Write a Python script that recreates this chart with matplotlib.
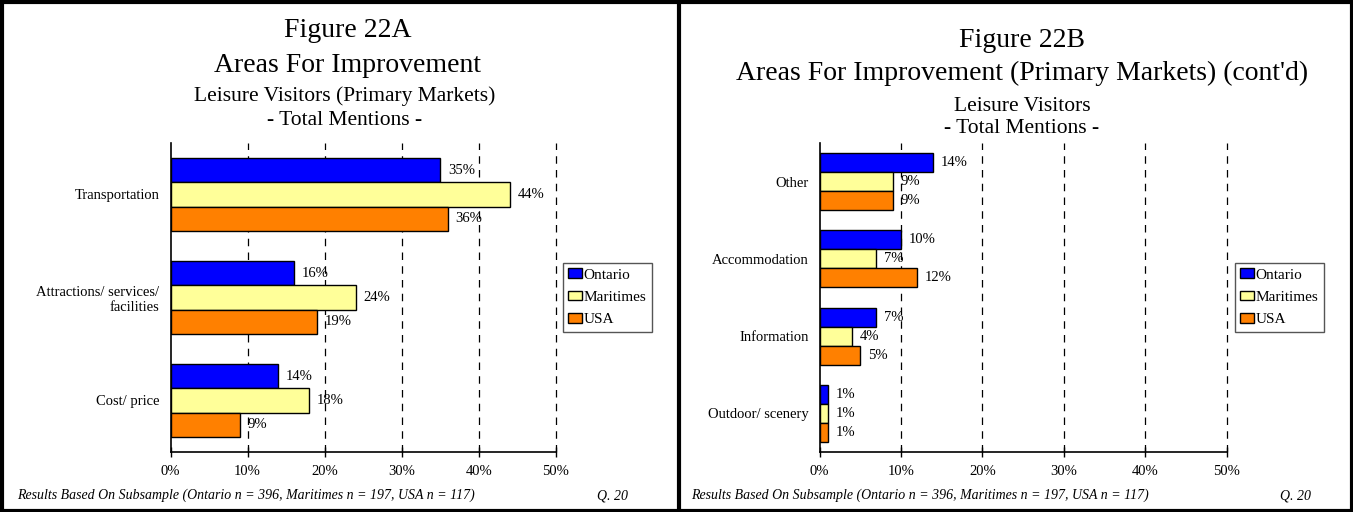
import matplotlib.pyplot as plt
from matplotlib.lines import Line2D
import numpy as np

plt.rcParams['font.family'] = ['Liberation Serif', 'DejaVu Serif']

series = ['Ontario', 'Maritimes', 'USA']
colors = ['#0000FF', '#FFFF99', '#FF8000']

cats_a = ['Transportation', 'Attractions/ services/\nfacilities', 'Cost/ price']
ontario_a = [35, 16, 14]
maritimes_a = [44, 24, 18]
usa_a = [36, 19, 9]

cats_b = ['Other', 'Accommodation', 'Information', 'Outdoor/ scenery']
ontario_b = [14, 10, 7, 1]
maritimes_b = [9, 7, 4, 1]
usa_b = [9, 12, 5, 1]

xticks = [0, 10, 20, 30, 40, 50]

W, H = 1353, 512
fig = plt.figure(figsize=(W / 100, H / 100), dpi=100)


def px(x0, y0, x1, y1):
    return [x0 / W, 1 - y1 / H, (x1 - x0) / W, (y1 - y0) / H]


def panel(rect, cats, vals, bh, legend_xy):
    ax = fig.add_axes(rect)
    n = len(cats)
    y = np.arange(n)
    for i, (v, c, name) in enumerate(zip(vals, colors, series)):
        pos = y + (i - 1) * bh
        bars = ax.barh(pos, v, height=bh, color=c, edgecolor='black', linewidth=1.0, label=name)
        for b, val in zip(bars, v):
            ax.annotate(f'{val}%', (val, b.get_y() + bh / 2), xytext=(5.5, 0),
                        textcoords='offset points', va='center', ha='left', fontsize=10.5)
    ax.set_ylim(n - 0.5, -0.5)
    ax.set_xlim(0, 50)
    ax.set_yticks(y)
    ax.set_yticklabels(cats, fontsize=10.5, ha='right', multialignment='right')
    ax.tick_params(axis='y', length=0, pad=8)
    ax.set_xticks(xticks)
    ax.set_xticklabels([f'{t}%' for t in xticks], fontsize=10.5)
    ax.tick_params(axis='x', direction='inout', length=7, width=1, pad=6)
    for t in xticks[1:]:
        ax.axvline(t, color='black', lw=0.9, ls=(0, (6, 5)), zorder=0, clip_on=False)
    for s in ['top', 'right']:
        ax.spines[s].set_visible(False)
    ax.spines['left'].set_linewidth(1.2)
    ax.spines['bottom'].set_linewidth(1.2)
    ax.set_axisbelow(True)
    leg = ax.legend(loc='upper left', bbox_to_anchor=(legend_xy[0] / W, 1 - legend_xy[1] / H),
                    bbox_transform=fig.transFigure, fontsize=11, frameon=True, fancybox=False,
                    edgecolor='#555555', framealpha=1, borderpad=0.35, borderaxespad=0,
                    handlelength=0.9, handleheight=0.6, handletextpad=0.1, labelspacing=0.6)
    leg.get_frame().set_linewidth(1.0)
    return ax


panel(px(170.5, 143, 556, 452), cats_a, [ontario_a, maritimes_a, usa_a], 0.236, (563, 263))
panel(px(819.5, 143, 1226.5, 452), cats_b, [ontario_b, maritimes_b, usa_b], 0.246, (1235, 263))

# titles
def ftext(x, y, s, **kw):
    fig.text(x / W, 1 - y / H, s, ha='center', va='baseline', **kw)

ftext(348, 37, 'Figure 22A', fontsize=20)
ftext(348, 72, 'Areas For Improvement', fontsize=20)
ftext(345, 101, 'Leisure Visitors (Primary Markets)', fontsize=15.5)
ftext(345, 125, '- Total Mentions -', fontsize=15.5)

ftext(1022, 47, 'Figure 22B', fontsize=20)
ftext(1022, 80, "Areas For Improvement (Primary Markets) (cont'd)", fontsize=20)
ftext(1022, 111, 'Leisure Visitors', fontsize=15.5)
ftext(1022, 133, '- Total Mentions -', fontsize=15.5)

foot = 'Results Based On Subsample (Ontario n = 396, Maritimes n = 197, USA n = 117)'
fig.text(17 / W, 1 - 499 / H, foot, fontsize=10, style='italic', va='baseline')
fig.text(597 / W, 1 - 499 / H, 'Q. 20', fontsize=10, style='italic', va='baseline')
fig.text(691 / W, 1 - 499 / H, foot, fontsize=10, style='italic', va='baseline')
fig.text(1280 / W, 1 - 499 / H, 'Q. 20', fontsize=10, style='italic', va='baseline')

# panel borders
def fline(xs, ys, lw=3):
    fig.add_artist(Line2D([x / W for x in xs], [1 - y / H for y in ys], color='black', lw=lw,
                          transform=fig.transFigure))

fline([1.5, 1351.5], [1.5, 1.5])
fline([1.5, 1351.5], [510.5, 510.5])
fline([1.5, 1.5], [1.5, 510.5])
fline([1351.5, 1351.5], [1.5, 510.5])
fline([679, 679], [1.5, 510.5])

fig.savefig('out.png', dpi=100)
